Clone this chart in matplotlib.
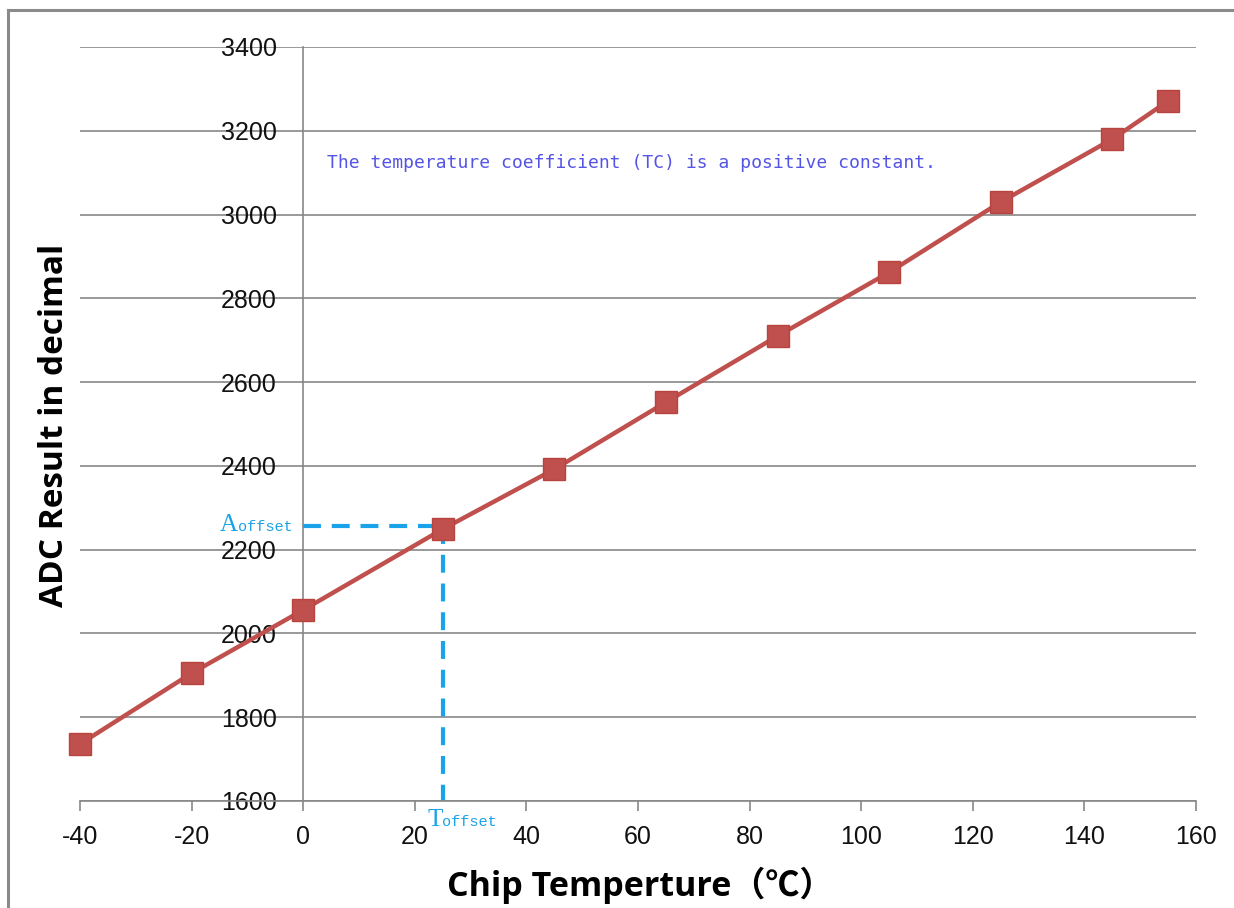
import numpy as np
from matplotlib import pyplot as plt
from matplotlib.lines import Line2D

plt.rcParams['axes.unicode_minus'] = False

### data
temp = [-40, -20, 0, 25, 45, 65, 85, 105, 125, 145, 155]          # [degC]
adc  = [1736, 1905, 2056, 2249, 2392, 2552, 2710, 2862, 3030, 3180, 3271]

t_offset = 25
a_offset = 2256

x_ticks = list(range(-40, 161, 20))
y_ticks = list(range(1600, 3401, 200))

red   = '#C0504D'
cyan  = '#1AA3E8'
grey  = '#878787'

fig = plt.figure(figsize=(12.34, 9.08), dpi=100)
ax = fig.add_axes([80/1234, 1 - 801/908, 1116/1234, 754/908])

ax.set_xlim(-40, 160)
ax.set_ylim(1600, 3400)
ax.set_xticks(x_ticks)
ax.set_yticks(y_ticks)

ax.yaxis.grid(True, color=grey, linewidth=1.2)
ax.set_axisbelow(True)

for s in ['top', 'right']:
    ax.spines[s].set_visible(False)
ax.spines['left'].set_position(('data', 0))
ax.spines['left'].set_color(grey)
ax.spines['left'].set_linewidth(1.2)
ax.spines['bottom'].set_color(grey)
ax.spines['bottom'].set_linewidth(1.2)

ax.tick_params(axis='x', direction='out', length=7, width=1.2, color=grey,
               pad=10, labelsize=18, labelcolor='#111111')
ax.tick_params(axis='y', length=0, pad=19, labelsize=18, labelcolor='#111111')
for lab in ax.get_xticklabels() + ax.get_yticklabels():
    lab.set_fontfamily('Liberation Sans')

# offset guide lines
ax.plot([0, t_offset], [a_offset, a_offset], color=cyan, lw=3, ls=(0, (4.3, 2.6)), zorder=2)
ax.plot([t_offset, t_offset], [a_offset, 1600], color=cyan, lw=3, ls=(0, (4.3, 2.6)), zorder=2,
        clip_on=False)

ax.plot(temp, adc, color=red, lw=3.2, marker='s', markersize=16.5,
        markerfacecolor=red, markeredgecolor='#B8443F', zorder=3, clip_on=False)

ax.text(4.3, 3123, 'The temperature coefficient (TC) is a positive constant.',
        fontsize=13, family='DejaVu Sans Mono', color='#5454E6', va='center', ha='left')

ax.text(-15.0, 2244, 'A', fontsize=18, family='Liberation Serif', color=cyan,
        va='baseline', ha='left')
ax.text(-11.6, 2244, 'offset', fontsize=11, family='Liberation Mono', color=cyan,
        va='baseline', ha='left')
ax.text(22.2, 1540, 'T', fontsize=18, family='Liberation Serif', color=cyan,
        va='baseline', ha='left')
ax.text(24.8, 1540, 'offset', fontsize=11, family='Liberation Mono', color=cyan,
        va='baseline', ha='left')

fig.text(55/1234, 1 - 425/908, 'ADC Result in decimal', rotation=90, fontsize=24,
         fontweight='bold', family='Open Sans', ha='center', va='center')
fig.text(640/1234, 1 - 885/908, 'Chip Temperture（℃）', fontsize=24.5, fontweight='bold',
         family=['Open Sans', 'Noto Sans CJK SC'], ha='center', va='center')

# outer frame (top & left visible)
fig.add_artist(Line2D([8/1234, 8/1234], [0, 1 - 10/908], color='#8A8A8A', lw=2.2,
                      transform=fig.transFigure))
fig.add_artist(Line2D([8/1234, 1], [1 - 10/908, 1 - 10/908], color='#8A8A8A', lw=2.2,
                      transform=fig.transFigure))

fig.savefig('out.png', dpi=100)
